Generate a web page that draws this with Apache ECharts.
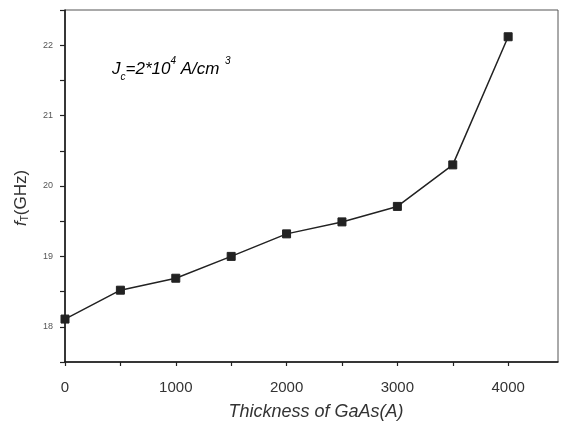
<!DOCTYPE html>
<html>
<head>
<meta charset="utf-8">
<script src="https://cdn.jsdelivr.net/npm/echarts@6/dist/echarts.min.js"></script>
<style>html,body{margin:0;padding:0;background:#fff}#c{width:561px;height:424px}</style>
</head>
<body>
<div id="c"></div>
<script>
var thickness = [0, 500, 1000, 1500, 2000, 2500, 3000, 3500, 4000];
var fT = [18.11, 18.52, 18.69, 19.0, 19.32, 19.49, 19.71, 20.3, 22.12];
var xTickLabels = [0, 1000, 2000, 3000, 4000];
var yTickLabels = [18, 19, 20, 21, 22];

var chart = echarts.init(document.getElementById('c'), null, {renderer: 'canvas'});
var pts = thickness.map(function (t, i) { return [t, fT[i]]; });
var FF = 'Arial, Liberation Sans, sans-serif';
chart.setOption({
  animation: false,
  backgroundColor: '#fff',
  grid: {left: 65, right: 3, top: 10, bottom: 62, show: true, borderColor: '#555', borderWidth: 1, outerBoundsMode: 'none', containLabel: false},
  xAxis: {
    type: 'value', min: 0, max: 4450, interval: 500,
    axisLine: {show: true, onZero: false, lineStyle: {color: '#111', width: 1.5}},
    axisTick: {show: true, inside: false, length: 4, lineStyle: {color: '#222', width: 1.2}},
    splitLine: {show: false},
    axisLabel: {
      showMaxLabel: false,
      margin: 18, color: '#333', fontSize: 15, fontFamily: FF,
      formatter: function (v) { return xTickLabels.indexOf(v) >= 0 ? String(v) : ''; }
    },
    name: 'Thickness of GaAs(A)', nameLocation: 'middle', nameGap: 41,
    nameTextStyle: {fontSize: 18, fontStyle: 'italic', color: '#333', fontFamily: FF, padding: [0, 0, 0, 9]}
  },
  yAxis: {
    type: 'value', min: 17.5, max: 22.5, interval: 0.5,
    axisLine: {show: true, onZero: false, lineStyle: {color: '#111', width: 1.5}},
    axisTick: {show: true, inside: false, length: 5, lineStyle: {color: '#222', width: 1.2}},
    splitLine: {show: false},
    axisLabel: {
      margin: 12, color: '#555', fontSize: 9, fontFamily: FF,
      formatter: function (v) { return yTickLabels.indexOf(Math.round(v * 100) / 100) >= 0 ? String(v) : ''; }
    },
    name: '{i|f}{s|T}{n|(GHz)}', nameLocation: 'middle', nameGap: 35,
    nameTextStyle: {
      padding: [0, 24, 0, 0],
      rich: {
        i: {fontSize: 17, fontStyle: 'italic', color: '#333', fontFamily: FF},
        s: {fontSize: 10, color: '#333', fontFamily: FF, verticalAlign: 'bottom', padding: [8, 0, 0, 0]},
        n: {fontSize: 17, color: '#333', fontFamily: FF}
      }
    }
  },
  graphic: [{
    type: 'text', left: 112, top: 56,
    style: {
      text: '{j|J}{sub|c}{n|=2*10}{sup|4}{n| A/cm}{sup|  3}',
      rich: {
        j: {fontSize: 17, fontStyle: 'italic', color: '#222', fontFamily: FF, lineHeight: 26},
        sub: {fontSize: 10, fontStyle: 'italic', color: '#222', fontFamily: FF, verticalAlign: 'bottom', lineHeight: 26},
        n: {fontSize: 17, fontStyle: 'italic', color: '#222', fontFamily: FF, lineHeight: 26},
        sup: {fontSize: 10, fontStyle: 'italic', color: '#222', fontFamily: FF, verticalAlign: 'top', lineHeight: 26}
      }
    }
  }],
  series: [{
    type: 'line', data: pts,
    symbol: 'rect', symbolSize: 8,
    lineStyle: {color: '#222', width: 1.5},
    itemStyle: {color: '#222', borderColor: '#222'}
  }]
});
</script>
</body>
</html>
